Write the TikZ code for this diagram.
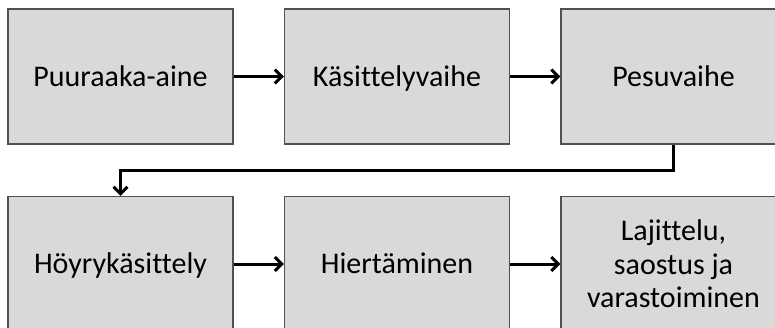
\documentclass[tikz,border=0pt]{standalone}
\usepackage{fontspec}
\setmainfont{Carlito}[Ligatures={NoCommon}]
\usetikzlibrary{arrows.meta}
\definecolor{boxfill}{HTML}{D9D9D9}
\definecolor{boxline}{HTML}{505050}
\tikzset{
  basebox/.style={draw=boxline, line width=1.2pt, fill=boxfill,
    minimum width=225pt, minimum height=135pt, inner sep=0pt,
    align=center, font=\fontsize{30}{33.5}\selectfont},
  stepbox/.style={basebox, text height=19.5pt, text depth=0pt},
  flow/.style={line width=3pt, -{Straight Barb[length=7pt,width=14pt,line width=3pt]}},
}
\begin{document}
\begin{tikzpicture}[x=1pt,y=-1pt]
\useasboundingbox (0,0) rectangle (775,327);
\clip (0,0) rectangle (775,327);
\node[stepbox] (a) at (120.5,76.5) {Puuraaka-aine};
\node[stepbox] (b) at (397,76.5) {Käsittelyvaihe};
\node[stepbox] (c) at (673.5,76.5) {Pesuvaihe};
\node[stepbox] (d) at (120.5,264) {Höyrykäsittely};
\node[stepbox] (e) at (397,264) {Hiertäminen};
\node[basebox] (f) at (673.5,264) {Lajittelu,\\saostus ja\\varastoiminen};
\coordinate (turn) at (0,170);
\draw[flow] (a) -- (b);
\draw[flow] (b) -- (c);
\draw[flow] (c.south) |- (turn -| d.north) -- (d.north);
\draw[flow] (d) -- (e);
\draw[flow] (e) -- (f);
\end{tikzpicture}
\end{document}
